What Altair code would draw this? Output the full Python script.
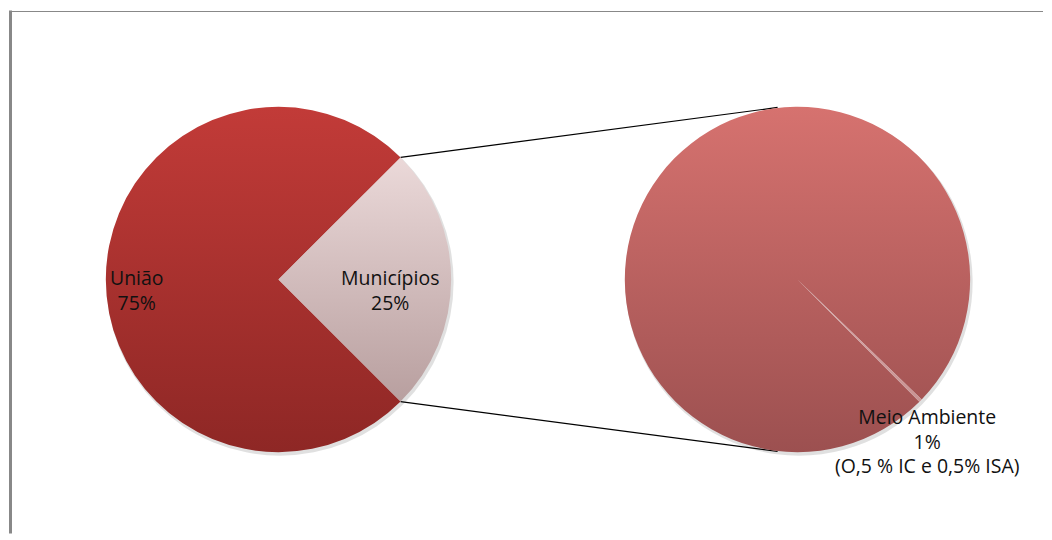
import math
import altair as alt
import pandas as pd

# ---- data ----
left_labels = ["Municípios", "União"]
left_values = [25, 75]
left_texts = ["Municípios\n25%", "União\n75%"]

right_labels = ["Meio Ambiente", "Demais"]
right_values = [0.3, 99.7]
right_texts = ["Meio Ambiente\n1%\n(O,5 % IC  e 0,5% ISA)", ""]

# ---- layout ----
W, H = 1036, 524
R = 173
LCX, LCY = 270, 269.5
RCX, RCY = 790, 269.5
LEFT_START = 45     # degrees, clockwise from 12 o'clock
RIGHT_START = 134
FONT = "Open Sans"
FS = 19.5
TXT = "#111111"


def pie_table(labels, values, texts, start_deg):
    total = sum(values)
    rows, acc = [], 0.0
    base = math.radians(start_deg)
    for lab, v, t in zip(labels, values, texts):
        t0 = base + 2 * math.pi * acc / total
        acc += v
        t1 = base + 2 * math.pi * acc / total
        rows.append(dict(label=lab, value=v, text=t, t0=t0, t1=t1, mid=(t0 + t1) / 2))
    return pd.DataFrame(rows)


left_df = pie_table(left_labels, left_values, left_texts, LEFT_START)
right_df = pie_table(right_labels, right_values, right_texts, RIGHT_START)


def grad(top, bottom):
    return alt.LinearGradient(
        gradient="linear",
        stops=[alt.GradientStop(color=top, offset=0), alt.GradientStop(color=bottom, offset=1)],
        x1=0, x2=0, y1=0, y2=1,
    )


def slice_layer(df, label, cx, cy, fill):
    return (
        alt.Chart(df)
        .transform_filter(alt.datum.label == label)
        .mark_arc(radius=R, fill=fill)
        .encode(
            theta=alt.Theta("t0:Q", scale=None, stack=None),
            theta2=alt.Theta2("t1:Q"),
            x=alt.value(cx),
            y=alt.value(cy),
        )
    )


def shadow_layer(df, cx, cy):
    return (
        alt.Chart(df)
        .mark_arc(radius=R + 1, fill="#000000", opacity=0.12)
        .encode(
            theta=alt.Theta("t0:Q", scale=None, stack=None),
            theta2=alt.Theta2("t1:Q"),
            x=alt.value(cx + 1.5),
            y=alt.value(cy + 2.5),
        )
    )


def text_layer(df, label, cx, cy, radius, dx=0, dy=0):
    return (
        alt.Chart(df)
        .transform_filter(alt.datum.label == label)
        .mark_text(
            radius=radius, dx=dx, dy=dy, align="center", baseline="middle",
            lineBreak="\n", lineHeight=24.5, font=FONT, fontSize=FS, color=TXT,
        )
        .encode(
            theta=alt.Theta("mid:Q", scale=None, stack=None),
            text="text:N",
            x=alt.value(cx),
            y=alt.value(cy),
        )
    )


one = pd.DataFrame({"k": [0]})

# frame (top and left edges visible)
frame_top = alt.Chart(one).mark_rule(color="#888888", strokeWidth=1.2).encode(
    x=alt.value(0), x2=alt.value(W), y=alt.value(1)
)
frame_left = alt.Chart(one).mark_rule(color="#888888", strokeWidth=3).encode(
    x=alt.value(1.5), y=alt.value(0), y2=alt.value(H)
)


# connector lines: from the edges of the "Municípios" slice to the second pie
def polar(cx, cy, r, deg):
    a = math.radians(deg)
    return cx + r * math.sin(a), cy - r * math.cos(a)


ax1, ay1 = polar(LCX, LCY, R, LEFT_START)
ax2, ay2 = polar(LCX, LCY, R, LEFT_START + 360 * left_values[0] / sum(left_values))
bx1, by1 = polar(RCX, RCY, R + 0.5, -6.6)
bx2, by2 = polar(RCX, RCY, R + 0.5, 186.6)

conn_top = alt.Chart(one).mark_rule(color="#000000", strokeWidth=1.2).encode(
    x=alt.value(ax1), y=alt.value(ay1), x2=alt.value(bx1), y2=alt.value(by1)
)
conn_bot = alt.Chart(one).mark_rule(color="#000000", strokeWidth=1.2).encode(
    x=alt.value(ax2), y=alt.value(ay2), x2=alt.value(bx2), y2=alt.value(by2)
)

layers = [
    frame_top,
    frame_left,
    shadow_layer(left_df, LCX, LCY),
    shadow_layer(right_df, RCX, RCY),
    conn_top,
    conn_bot,
    slice_layer(left_df, "União", LCX, LCY, grad("#C23B38", "#8E2725")),
    slice_layer(left_df, "Municípios", LCX, LCY, grad("#EBD9D9", "#B89F9F")),
    slice_layer(right_df, "Demais", RCX, RCY, grad("#D6726F", "#9C5050")),
    slice_layer(right_df, "Meio Ambiente", RCX, RCY, grad("#D9A9A9", "#C99393")),
    text_layer(left_df, "União", LCX, LCY, 142, dy=0),
    text_layer(left_df, "Municípios", LCX, LCY, 112, dy=0),
    text_layer(right_df, "Meio Ambiente", RCX, RCY, 209, dx=-19, dy=-7.5),
]

chart = (
    alt.layer(*layers)
    .properties(width=W, height=H, padding=0)
    .configure_view(stroke=None)
)

chart.save("out.html", embed_options={"renderer": "svg", "actions": False})
